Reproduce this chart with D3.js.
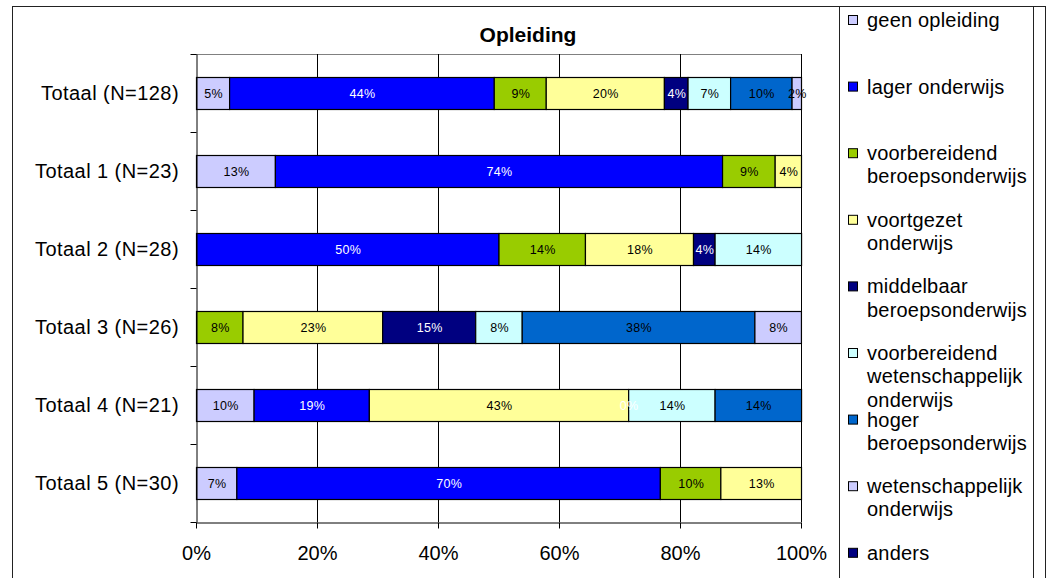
<!DOCTYPE html>
<html>
<head>
<meta charset="utf-8">
<script src="https://cdn.jsdelivr.net/npm/d3@7"></script>
<style>
  html, body { margin: 0; padding: 0; background: #fff; }
  svg { display: block; font-family: "Liberation Sans", Arial, sans-serif; }
</style>
</head>
<body>
<svg id="chart" width="1053" height="578"></svg>
<script>
// ---- data ----
const title = "Opleiding";
const categories = ["Totaal (N=128)", "Totaal 1 (N=23)", "Totaal 2 (N=28)", "Totaal 3 (N=26)", "Totaal 4 (N=21)", "Totaal 5 (N=30)"];
const seriesNames = [
  "geen opleiding",
  "lager onderwijs",
  "voorbereidend beroepsonderwijs",
  "voortgezet onderwijs",
  "middelbaar beroepsonderwijs",
  "voorbereidend wetenschappelijk onderwijs",
  "hoger beroepsonderwijs",
  "wetenschappelijk onderwijs",
  "anders"
];
const legendLines = [
  ["geen opleiding"],
  ["lager onderwijs"],
  ["voorbereidend", "beroepsonderwijs"],
  ["voortgezet", "onderwijs"],
  ["middelbaar", "beroepsonderwijs"],
  ["voorbereidend", "wetenschappelijk", "onderwijs"],
  ["hoger", "beroepsonderwijs"],
  ["wetenschappelijk", "onderwijs"],
  ["anders"]
];
const seriesColors = ["#CCCCFF", "#0000FF", "#99CC00", "#FFFF99", "#000080", "#CCFFFF", "#0066CC", "#CCCCFF", "#000080"];
const labelColors  = ["#000", "#fff", "#000", "#000", "#fff", "#000", "#000", "#000", "#fff"];

// percentages per series, one value per category (null = no value)
const geenOpleiding  = [5.47, 13.04, null, null, 9.52, 6.67];
const lagerOnderwijs = [43.75, 73.91, 50.00, null, 19.05, 70.00];
const vbo            = [8.59, 8.70, 14.29, 7.69, null, 10.00];
const voortgezet     = [19.53, 4.35, 17.86, 23.08, 42.86, 13.33];
const mbo            = [3.91, null, 3.57, 15.38, 0, null];
const vwo            = [7.03, null, 14.29, 7.69, 14.29, null];
const hbo            = [10.16, null, null, 38.46, 14.29, null];
const wo             = [1.56, null, null, 7.69, null, null];
const anders         = [null, null, null, null, null, null];
const seriesValues = [geenOpleiding, lagerOnderwijs, vbo, voortgezet, mbo, vwo, hbo, wo, anders];

const xTicks = [0, 20, 40, 60, 80, 100];

// ---- layout ----
const svg = d3.select("#chart");
const plot = { left: 196, right: 801, top: 54, bottom: 522 };
const fontMain = 20;

// outer frame
svg.append("rect").attr("x", 12.5).attr("y", 6.5).attr("width", 1033).attr("height", 600)
  .attr("fill", "#fff").attr("stroke", "#222").attr("stroke-width", 1);

const x = d3.scaleLinear().domain([0, 100]).range([plot.left, plot.right]);
const y = d3.scaleBand().domain(categories).range([plot.top, plot.bottom])
  .paddingInner(0.59).paddingOuter(0.295);

// plot border (top)
svg.append("line").attr("x1", plot.left).attr("x2", plot.right)
  .attr("y1", plot.top + 0.5).attr("y2", plot.top + 0.5).attr("stroke", "#808080");

// vertical gridlines
svg.append("g").selectAll("line").data(xTicks.slice(1)).join("line")
  .attr("x1", d => Math.round(x(d)) + 0.5).attr("x2", d => Math.round(x(d)) + 0.5)
  .attr("y1", plot.top).attr("y2", plot.bottom).attr("stroke", "#000").attr("stroke-width", 1);

// title
svg.append("text").attr("x", 528).attr("y", 42).attr("text-anchor", "middle")
  .attr("font-size", 21).attr("font-weight", "bold").text(title);

// stacked bars
const stacks = categories.map((c, ci) => {
  let acc = 0;
  return seriesValues.map((vals, si) => {
    const v = vals[ci];
    const seg = { cat: c, si, v, x0: acc, x1: acc + (v || 0) };
    acc += (v || 0);
    return seg;
  }).filter(s => s.v !== null);
});
const segs = stacks.flat();

const gBars = svg.append("g");
gBars.selectAll("rect").data(segs.filter(s => s.v > 0)).join("rect")
  .attr("x", s => x(s.x0) + 0.5)
  .attr("y", s => Math.round(y(s.cat)) + 0.5)
  .attr("width", s => x(s.x1) - x(s.x0))
  .attr("height", Math.round(y.bandwidth()))
  .attr("fill", s => seriesColors[s.si])
  .attr("stroke", "#000").attr("stroke-width", 1.2);

gBars.selectAll("text").data(segs).join("text")
  .attr("x", s => x((s.x0 + s.x1) / 2) + 1)
  .attr("y", s => y(s.cat) + y.bandwidth() / 2 + 5)
  .attr("text-anchor", "middle")
  .attr("font-size", 12.5)
  .attr("letter-spacing", 0.3)
  .attr("fill", s => labelColors[s.si])
  .text(s => d3.format(".0%")(s.v / 100));

// y axis
const yIdx = d3.scaleLinear().domain([0, categories.length]).range([plot.top, plot.bottom]);
const gy = svg.append("g").attr("transform", `translate(${plot.left + 0.5},0)`)
  .call(d3.axisLeft(yIdx).tickValues(d3.range(categories.length + 1)).tickFormat("").tickSize(6).tickSizeOuter(0));
gy.selectAll("line").attr("stroke", "#000");
gy.select(".domain").attr("stroke", "#000");

svg.append("g").selectAll("text").data(categories).join("text")
  .attr("x", 179).attr("y", d => y(d) + y.bandwidth() / 2 + 7)
  .attr("text-anchor", "end").attr("font-size", fontMain).attr("letter-spacing", 0.45).attr("fill", "#000")
  .text(d => d);

// x axis
const gx = svg.append("g").attr("transform", `translate(0,${plot.bottom + 0.5})`)
  .call(d3.axisBottom(x).tickValues(xTicks).tickFormat(d => d + "%").tickSize(6).tickSizeOuter(0));
gx.select(".domain").attr("stroke", "#000");
gx.selectAll("line").attr("stroke", "#000");
gx.selectAll("text").attr("y", 37).attr("dy", 0).attr("font-size", fontMain)
  .attr("font-family", "Liberation Sans, Arial, sans-serif").attr("fill", "#000");

// legend
svg.append("rect").attr("x", 839.5).attr("y", 6.5).attr("width", 194).attr("height", 600)
  .attr("fill", "#fff").attr("stroke", "#222").attr("stroke-width", 1);
const lg = svg.append("g").selectAll("g").data(seriesNames).join("g")
  .attr("transform", (d, i) => `translate(848,${20 + i * 66.6})`);
lg.append("rect").attr("x", 0.5).attr("y", -4.5).attr("width", 9).attr("height", 9)
  .attr("fill", (d, i) => seriesColors[i]).attr("stroke", "#000").attr("stroke-width", 1);
lg.each(function(d, i) {
  const t = d3.select(this).append("text").attr("x", 19).attr("y", 7).attr("font-size", fontMain)
    .attr("letter-spacing", 0.2).attr("fill", "#000");
  legendLines[i].forEach((ln, li) => {
    t.append("tspan").attr("x", 19).attr("dy", li === 0 ? 0 : 23.3).text(ln);
  });
});
</script>
</body>
</html>
